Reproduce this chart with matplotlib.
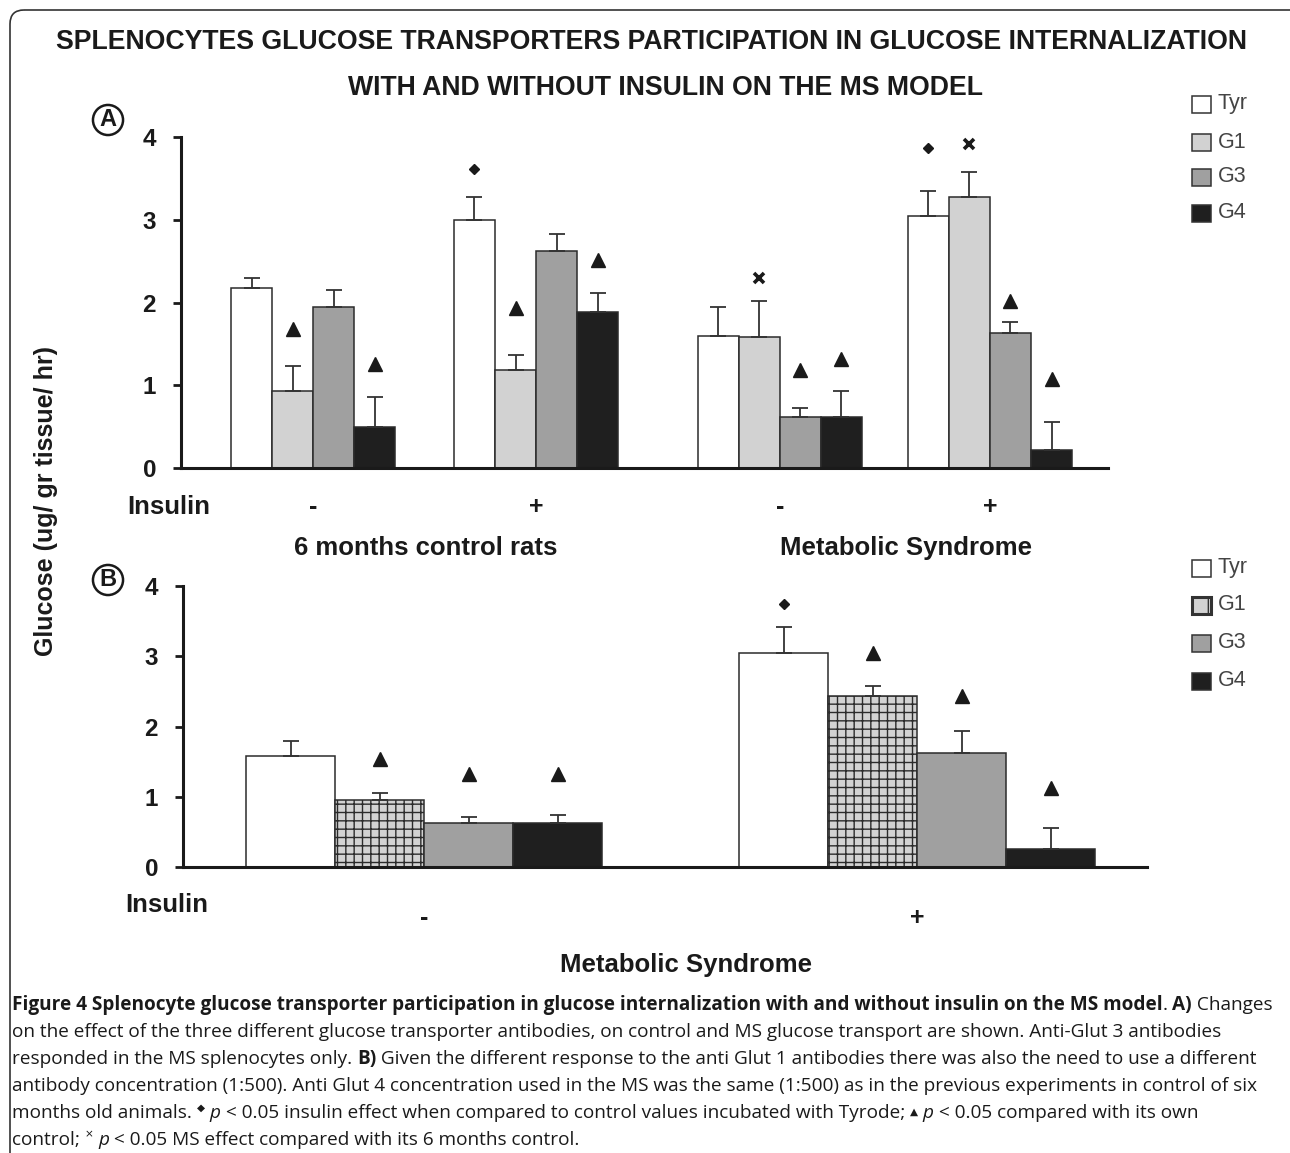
import matplotlib
matplotlib.use("Agg")
import matplotlib.pyplot as plt
import matplotlib.transforms as mtransforms
from matplotlib.patches import Rectangle, FancyBboxPatch
from matplotlib.font_manager import FontProperties, fontManager

plt.rcParams["font.family"] = ["Liberation Sans", "DejaVu Sans"]
plt.rcParams["hatch.linewidth"] = 1.0

# =========================
# Data
# =========================
SERIES = ["Tyr", "G1", "G3", "G4"]

# Panel A: control -, control +, MS -, MS +
A_INSULIN = ["-", "+", "-", "+"]
A_GROUP_NAMES = ["6 months control rats", "Metabolic Syndrome"]
A_TYR = [2.17, 3.00, 1.59, 3.05]
A_G1 = [0.93, 1.19, 1.58, 3.28]
A_G3 = [1.94, 2.62, 0.62, 1.63]
A_G4 = [0.50, 1.88, 0.62, 0.22]
A_TYR_ERR = [0.13, 0.28, 0.35, 0.30]
A_G1_ERR = [0.30, 0.17, 0.44, 0.30]
A_G3_ERR = [0.21, 0.21, 0.10, 0.13]
A_G4_ERR = [0.36, 0.23, 0.31, 0.34]
# significance symbols: group, series, kind, height
A_SIG_GROUP = [0, 0, 1, 1, 1, 2, 2, 2, 3, 3, 3, 3]
A_SIG_SERIES = [1, 3, 0, 1, 3, 1, 2, 3, 0, 1, 2, 3]
A_SIG_KIND = ["tri", "tri", "dia", "tri", "tri", "x", "tri", "tri", "dia", "x", "tri", "tri"]
A_SIG_Y = [1.68, 1.26, 3.61, 1.93, 2.51, 2.30, 1.19, 1.32, 3.87, 3.91, 2.02, 1.08]

# Panel B: Metabolic Syndrome, insulin - / +
B_INSULIN = ["-", "+"]
B_GROUP_NAME = "Metabolic Syndrome"
B_TYR = [1.58, 3.04]
B_G1 = [0.96, 2.43]
B_G3 = [0.62, 1.62]
B_G4 = [0.63, 0.26]
B_TYR_ERR = [0.21, 0.37]
B_G1_ERR = [0.09, 0.14]
B_G3_ERR = [0.09, 0.32]
B_G4_ERR = [0.11, 0.30]
B_SIG_GROUP = [0, 0, 0, 1, 1, 1, 1]
B_SIG_SERIES = [1, 2, 3, 0, 1, 2, 3]
B_SIG_KIND = ["tri", "tri", "tri", "dia", "tri", "tri", "tri"]
B_SIG_Y = [1.54, 1.32, 1.32, 3.75, 3.04, 2.43, 1.12]

TITLE_1 = "SPLENOCYTES GLUCOSE TRANSPORTERS PARTICIPATION IN GLUCOSE INTERNALIZATION"
TITLE_2 = "WITH AND WITHOUT INSULIN ON THE MS MODEL"
YLABEL = "Glucose (ug/ gr tissue/ hr)"

CAPTION = [
    [("Figure 4 Splenocyte glucose transporter participation in glucose internalization "
      "with and without insulin on the MS model", "b"), (". ", "r"), ("A)", "b"), (" Changes", "r")],
    [("on the effect of the three different glucose transporter antibodies, on control and MS "
      "glucose transport are shown. Anti-Glut 3 antibodies", "r")],
    [("responded in the MS splenocytes only. ", "r"), ("B)", "b"),
     (" Given the different response to the anti Glut 1 antibodies there was also the need to use a different", "r")],
    [("antibody concentration (1:500). Anti Glut 4 concentration used in the MS was the same (1:500) "
      "as in the previous experiments in control of six", "r")],
    [("months old animals. ", "r"), ("\u25c6", "sup"), (" ", "r"), ("p", "i"),
     (" < 0.05 insulin effect when compared to control values incubated with Tyrode; ", "r"),
     ("\u25b2", "sym"), (" ", "r"), ("p", "i"), (" < 0.05 compared with its own", "r")],
    [("control; ", "r"), ("\u00d7", "sup"), (" ", "r"), ("p", "i"),
     (" < 0.05 MS effect compared with its 6 months control.", "r")],
]

# =========================
# Layout / style
# =========================
W, H = 1290, 1153
FACES = ["white", "#d2d2d2", "#a0a0a0", "#1f1f1f"]
SYM = {
    "tri": dict(marker="^", ms=10),
    "dia": dict(marker="D", ms=5.5),
    "x": dict(marker="x", ms=7, mew=2.6),
}
DARK = "#1a1a1a"

fig = plt.figure(figsize=(W / 100, H / 100), dpi=100)
fig.patch.set_facecolor("white")

# full-figure pixel canvas for frame and free text
bg = fig.add_axes([0, 0, 1, 1])
bg.set_xlim(0, W)
bg.set_ylim(H, 0)
bg.axis("off")
bg.add_patch(FancyBboxPatch((10, 10), 1300, 1200, boxstyle="round,pad=0,rounding_size=14",
                            fc="none", ec="#333333", lw=1.2))


def px_axes(left, top, right, bottom):
    return fig.add_axes([left / W, 1 - bottom / H, (right - left) / W, (bottom - top) / H])


def draw_panel(ax, means, errs, centers, width, hatches, sig):
    for i, (vals, err) in enumerate(zip(means, errs)):
        xs = [c + (i - 1.5) * width for c in centers]
        ax.bar(xs, vals, width, color=FACES[i], edgecolor="#2b2b2b", lw=1.1,
               hatch=hatches[i], zorder=2)
        ax.errorbar(xs, vals, yerr=[[0] * len(vals), err], fmt="none", ecolor="#333333",
                    elinewidth=1.3, capsize=5.5, capthick=1.3, zorder=3)
    for g, s, kind, y in zip(*sig):
        ax.plot(centers[g] + (s - 1.5) * width, y, ls="none", color=DARK,
                clip_on=False, zorder=4, **SYM[kind])
    ax.set_ylim(0, 4)
    ax.set_facecolor("none")
    ax.spines[["top", "right"]].set_visible(False)
    for sp in ["left", "bottom"]:
        ax.spines[sp].set_linewidth(2.2)
        ax.spines[sp].set_color(DARK)
    ax.set_xticks([])
    ax.set_yticks(range(5))
    ax.tick_params(axis="y", length=6, width=2, pad=12, labelsize=17.5, colors=DARK)
    for lbl in ax.get_yticklabels():
        lbl.set_fontweight("bold")


# ---- panel A
axA = px_axes(181, 137, 1108, 468)
axA.set_xlim(0, 927)
A_CENTERS = [132, 355, 599, 809]
draw_panel(axA, [A_TYR, A_G1, A_G3, A_G4], [A_TYR_ERR, A_G1_ERR, A_G3_ERR, A_G4_ERR],
           A_CENTERS, 41, [None] * 4, (A_SIG_GROUP, A_SIG_SERIES, A_SIG_KIND, A_SIG_Y))

# ---- panel B
axB = px_axes(183, 586, 1147, 867)
axB.set_xlim(0, 964)
B_CENTERS = [241, 734]
draw_panel(axB, [B_TYR, B_G1, B_G3, B_G4], [B_TYR_ERR, B_G1_ERR, B_G3_ERR, B_G4_ERR],
           B_CENTERS, 89, [None, "++", None, None], (B_SIG_GROUP, B_SIG_SERIES, B_SIG_KIND, B_SIG_Y))

# insulin signs under the groups (x in data, y in pixels)
for ax, centers, signs, y in [(axA, A_CENTERS, A_INSULIN, 507), (axB, B_CENTERS, B_INSULIN, 918)]:
    tr = mtransforms.blended_transform_factory(ax.transData, bg.transData)
    for c, s in zip(centers, signs):
        ax.text(c, y, s, transform=tr, ha="center", va="center", fontsize=18,
                fontweight="bold", color=DARK, clip_on=False)

# ---- titles and labels
bold = dict(fontweight="bold", color=DARK, ha="center", va="center")
bg.text(651, 42, TITLE_1, fontsize=19.2, **bold)
bg.text(666, 88, TITLE_2, fontsize=19.2, **bold)
bg.text(46, 501, YLABEL, fontsize=18, rotation=90, **bold)
for lab, (x, y) in zip("AB", [(108, 120), (108, 580)]):
    bg.text(x, y, lab, fontsize=17, fontweight="bold", ha="center", va="center", color=DARK,
            bbox=dict(boxstyle="circle,pad=0.15", fc="white", ec=DARK, lw=1.8))
bg.text(127, 507, "Insulin", fontsize=18.5, fontweight="bold", color=DARK, ha="left", va="center")
bg.text(125, 905, "Insulin", fontsize=18.5, fontweight="bold", color=DARK, ha="left", va="center")
bg.text(426, 548, A_GROUP_NAMES[0], fontsize=18.5, **bold)
bg.text(906, 548, A_GROUP_NAMES[1], fontsize=18.5, **bold)
bg.text(686, 965, B_GROUP_NAME, fontsize=18.5, **bold)

# ---- legends (drawn as small swatches next to labels)
for rows, hatches in [([104, 142, 177, 213], [None] * 4), ([568, 605, 643, 681], [None, "|", None, None])]:
    for i, (name, y) in enumerate(zip(SERIES, rows)):
        lw = 2.2 if hatches[i] else 1.1
        bg.add_patch(Rectangle((1192, y - 8.5), 19, 17, fc=FACES[i], ec="#333333", lw=lw,
                               hatch=hatches[i]))
        bg.text(1218, y, name, fontsize=15.5, color="#444444", ha="left", va="center")

# ---- caption with mixed styles
names = {f.name for f in fontManager.ttflist}
CAP_FAMILY = ["Liberation Sans Narrow" if "Liberation Sans Narrow" in names else "Open Sans", "DejaVu Sans"]
renderer = fig.canvas.get_renderer()


def cap_props(style, size):
    if style == "b":
        return FontProperties(family=CAP_FAMILY, weight="bold", size=size)
    if style == "i":
        return FontProperties(family=CAP_FAMILY, style="italic", size=size)
    if style in ("sup", "sym"):
        return FontProperties(family=["DejaVu Sans"], size=size * 0.55)
    return FontProperties(family=CAP_FAMILY, size=size)


def run_width(txt, fp):
    w1 = renderer.get_text_width_height_descent(txt + "|", fp, ismath=False)[0]
    w2 = renderer.get_text_width_height_descent("|", fp, ismath=False)[0]
    return w1 - w2


# fit first caption line to its width in the figure
line1_w = sum(run_width(t, cap_props(s, 10)) for t, s in CAPTION[0])
cap_size = 10 * 1266 / line1_w

for k, runs in enumerate(CAPTION):
    y = 1010 + 27 * k
    x = 12
    for txt, style in runs:
        fp = cap_props(style, cap_size)
        dy = {"sup": -cap_size * 0.55, "sym": -cap_size * 0.2}.get(style, 0)
        bg.text(x, y + dy, txt, fontproperties=fp, color="#1a1a1a", ha="left", va="baseline")
        x += run_width(txt, fp)

fig.savefig("out.png", dpi=100)
